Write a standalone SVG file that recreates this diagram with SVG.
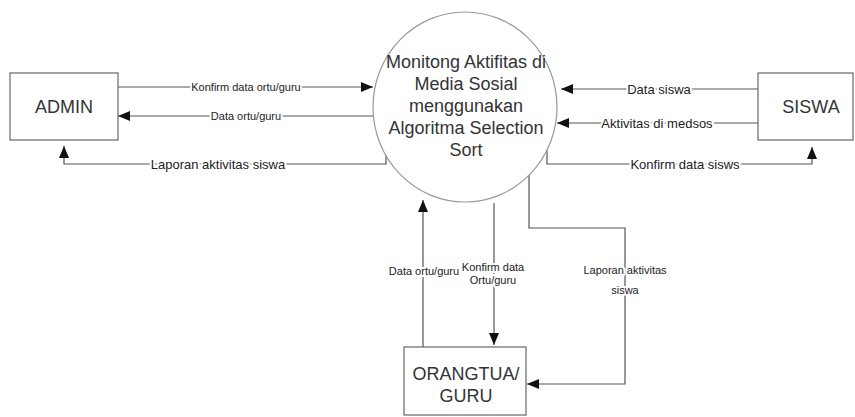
<svg xmlns="http://www.w3.org/2000/svg" width="855" height="417" viewBox="0 0 855 417">
<defs>
<marker id="ah" markerUnits="userSpaceOnUse" markerWidth="13" markerHeight="11" refX="12" refY="5" orient="auto" viewBox="0 0 13 11">
<path d="M0,0 L12,5 L0,10 z" fill="#111"/>
</marker>
<style>
.box{fill:#fff;stroke:#666;stroke-width:1.2}
.proc{fill:#fff;stroke:#999;stroke-width:1.2}
.name{font-family:"Liberation Sans",Arial,sans-serif;font-size:18px;fill:#333;text-anchor:middle}
.ptxt{font-family:"Liberation Sans",Arial,sans-serif;font-size:18px;fill:#333;text-anchor:middle}
.ln{fill:none;stroke:#555;stroke-width:1.2}
.arr{marker-end:url(#ah)}
.lb{font-family:"Liberation Sans",Arial,sans-serif;fill:#222;text-anchor:middle;stroke:#fff;stroke-width:4;paint-order:stroke;stroke-linejoin:round}
.s11{font-size:11px}
.s13{font-size:13px}
</style>
</defs>
<rect width="855" height="417" fill="#fff"/>
<g id="connectors">
<path class="ln arr" d="M118,87 H373"/>
<path class="ln arr" d="M373,116 H118"/>
<path class="ln arr" d="M386,153 V164 H64 V146"/>
<path class="ln arr" d="M758,89 H561"/>
<path class="ln arr" d="M758,123 H557"/>
<path class="ln arr" d="M547,150 V164 H812 V147"/>
<path class="ln arr" d="M423,347 V200"/>
<path class="ln arr" d="M494,203 V345"/>
<path class="ln arr" d="M529,175 V228 H625 V384 H527"/>
<text class="lb s11" x="246" y="91">Konfirm data ortu/guru</text>
<text class="lb s11" x="246" y="120">Data ortu/guru</text>
<text class="lb s13" x="218" y="169">Laporan aktivitas siswa</text>
<text class="lb s13" x="659" y="94">Data siswa</text>
<text class="lb s13" x="657" y="128">Aktivitas di medsos</text>
<text class="lb s13" x="685" y="169">Konfirm data sisws</text>
<text class="lb s11" x="424" y="275">Data ortu/guru</text>
<text class="lb s11" x="493" y="271">Konfirm data</text>
<text class="lb s11" x="493" y="284">Ortu/guru</text>
<text class="lb s11" x="625" y="274">Laporan aktivitas</text>
<text class="lb s11" x="625" y="294">siswa</text>
</g>
<g id="admin">
<rect class="box" x="10" y="73" width="108" height="67"/>
<text class="name" x="64" y="113">ADMIN</text>
</g>
<g id="siswa">
<rect class="box" x="758" y="73" width="95" height="67"/>
<text class="name" x="811" y="113">SISWA</text>
</g>
<g id="orangtua">
<rect class="box" x="404" y="347" width="122" height="68"/>
<text class="name" x="466" y="380">ORANGTUA/</text>
<text class="name" x="466" y="402">GURU</text>
</g>
<g id="process">
<ellipse class="proc" cx="465" cy="107" rx="92" ry="95"/>
<text class="ptxt" x="466" y="68">Monitong Aktifitas di</text>
<text class="ptxt" x="466" y="90">Media Sosial</text>
<text class="ptxt" x="466" y="112">menggunakan</text>
<text class="ptxt" x="466" y="134">Algoritma Selection</text>
<text class="ptxt" x="466" y="156">Sort</text>
</g>
</svg>
